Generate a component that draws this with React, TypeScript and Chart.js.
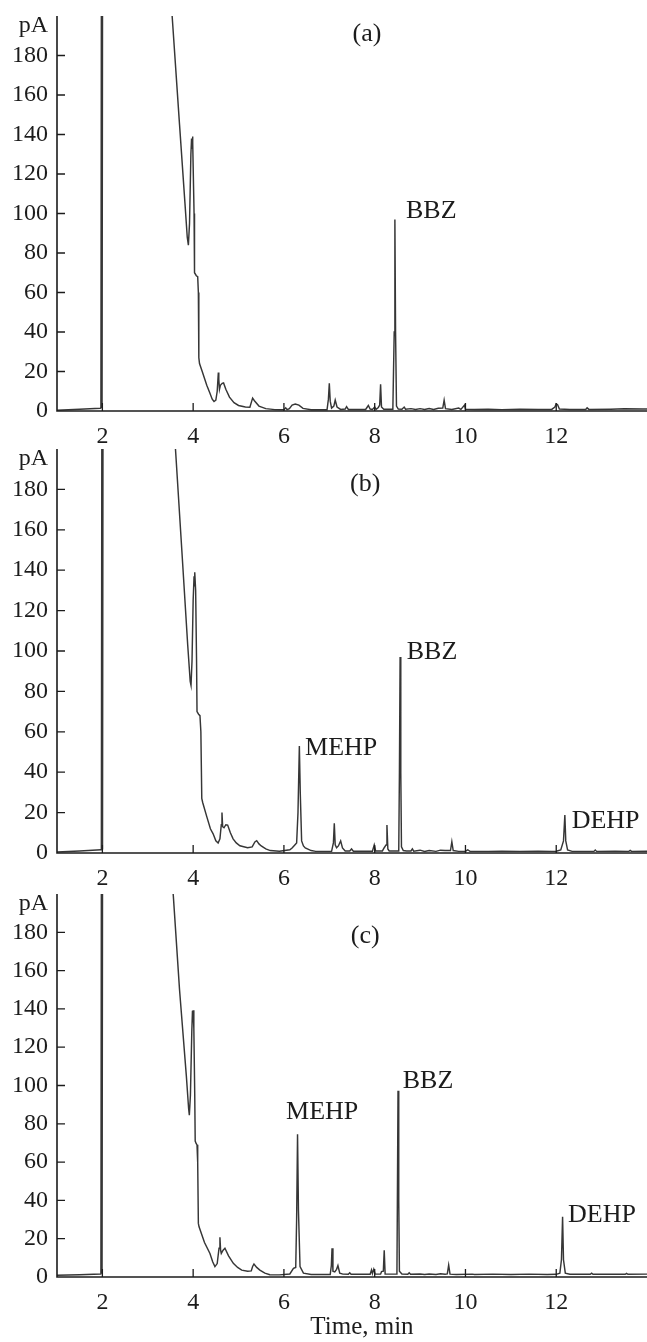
import React, { useEffect, useRef } from "react";
import { Chart, registerables } from "chart.js";

Chart.register(...registerables);

const FONT = "'Liberation Serif', 'Times New Roman', Times, serif";
const INK = "#1c1c1c";
const TRACE = "#363636";

// axes
const xTickValues = [2, 4, 6, 8, 10, 12];
const yTickValues = [0, 20, 40, 60, 80, 100, 120, 140, 160, 180];
const yUnitLabel = "pA";
const yUnitPosition = 195;
const xAxisTitle = "Time, min";
const xAxisTitleCenter = 7.72;
const xMin = 1;
const xMax = 14;
const yMin = 0;
const yMax = 200;

// panel (a)
const timeA = [1.0, 1.5, 1.95, 1.98, 2.0, 3.3, 3.45, 3.54, 3.7, 3.82, 3.87, 3.895, 3.92, 3.95, 3.965, 3.975, 3.985, 3.995, 4.02, 4.03, 4.07, 4.1, 4.115, 4.125, 4.14, 4.2, 4.3, 4.37, 4.42, 4.46, 4.5, 4.53, 4.555, 4.565, 4.58, 4.6, 4.64, 4.67, 4.72, 4.8, 4.9, 5.0, 5.15, 5.25, 5.29, 5.31, 5.35, 5.45, 5.6, 5.8, 6.0, 6.04, 6.07, 6.12, 6.18, 6.25, 6.33, 6.42, 6.6, 6.95, 6.98, 7.0, 7.02, 7.05, 7.1, 7.13, 7.17, 7.25, 7.35, 7.38, 7.42, 7.8, 7.86, 7.9, 7.95, 8.0, 8.03, 8.08, 8.11, 8.13, 8.15, 8.2, 8.4, 8.43, 8.445, 8.46, 8.48, 8.52, 8.6, 8.65, 8.68, 8.8, 8.9, 9.0, 9.1, 9.2, 9.3, 9.4, 9.5, 9.53, 9.56, 9.7, 9.85, 9.9, 9.98, 10.0, 10.2, 10.5, 10.8, 11.2, 11.6, 11.9, 11.97, 12.0, 12.03, 12.07, 12.3, 12.65, 12.68, 12.72, 13.2, 13.5, 13.9, 14.0];
const signalA = [0.4, 0.9, 1.4, 1.5, 400, 400, 230, 199, 145, 105, 88, 84, 95, 130, 138, 133, 139, 136, 100, 70, 68.5, 68, 60, 27, 24, 20, 13, 9, 6, 4.8, 5.5, 10, 19.5, 16, 11, 13, 14, 14.2, 11, 7, 4.2, 2.8, 2, 1.9, 5, 6.5, 5.2, 2.5, 1.2, 0.7, 0.6, 1.6, 0.7, 1.2, 3, 3.5, 3, 1.3, 0.6, 0.6, 6, 14, 5, 1.5, 2.5, 5.5, 2, 0.8, 1.0, 2.2, 0.8, 0.8, 2.8, 1, 0.8, 2, 0.8, 1.8, 3, 13.5, 2, 0.9, 0.9, 40, 97, 40, 2.5, 1, 0.9, 2, 0.9, 1.2, 0.8, 1.2, 0.8, 1.3, 0.8, 1.4, 1.5, 5.5, 1.2, 0.8, 1.5, 0.8, 3, 0.9, 0.8, 0.9, 0.7, 0.9, 0.8, 0.8, 2, 3.6, 3.2, 1, 0.8, 0.8, 1.6, 0.8, 0.9, 1.1, 1.0, 1.0];
const labelsA = ["(a)", "BBZ"];
const labelTimesA = [7.83, 8.69];
const labelSignalsA = [191, 101];

// panel (b)
const timeB = [1.0, 1.5, 1.97, 1.99, 2.01, 3.3, 3.5, 3.616, 3.75, 3.88, 3.935, 3.953, 3.975, 4.0, 4.02, 4.03, 4.04, 4.055, 4.075, 4.085, 4.12, 4.15, 4.17, 4.19, 4.21, 4.3, 4.38, 4.44, 4.5, 4.55, 4.59, 4.62, 4.635, 4.65, 4.68, 4.72, 4.76, 4.82, 4.88, 4.95, 5.03, 5.2, 5.3, 5.36, 5.4, 5.45, 5.5, 5.6, 5.7, 5.9, 6.13, 6.18, 6.24, 6.28, 6.31, 6.34, 6.36, 6.39, 6.43, 6.47, 6.6, 6.7, 7.05, 7.09, 7.11, 7.13, 7.16, 7.2, 7.25, 7.29, 7.35, 7.45, 7.49, 7.53, 7.95, 7.99, 8.02, 8.17, 8.21, 8.25, 8.27, 8.29, 8.32, 8.53, 8.545, 8.56, 8.575, 8.59, 8.63, 8.7, 8.8, 8.83, 8.86, 9.0, 9.1, 9.2, 9.35, 9.45, 9.55, 9.67, 9.7, 9.73, 9.85, 10.0, 10.05, 10.1, 10.5, 10.8, 11.2, 11.6, 11.9, 12.0, 12.1, 12.16, 12.19, 12.21, 12.25, 12.35, 12.83, 12.86, 12.89, 13.3, 13.6, 13.63, 13.66, 14.0];
const signalB = [0.5, 1.0, 1.6, 1.7, 400, 400, 240, 198, 150, 103, 85, 83, 95, 125, 137, 132, 139, 130, 95, 70, 68.7, 68, 60, 27, 25, 18, 12, 9.5, 6, 4.9, 7, 14, 20, 13, 12.5, 14, 13.8, 10, 7, 5, 3.6, 2.6, 3, 5.5, 6.1, 4.5, 3.5, 2, 1.2, 0.9, 1.6, 2.5, 4, 5, 20, 53, 30, 6, 3.5, 2.5, 1.2, 0.8, 0.8, 5, 14.7, 4, 2.6, 3.5, 6, 2.5, 1, 1, 2, 0.9, 0.9, 4, 1, 1, 2.6, 4, 13.8, 2, 1, 1, 40, 97, 40, 3, 1.2, 1, 1, 2, 0.9, 1.4, 0.8, 1.2, 0.8, 1.4, 1.2, 1.2, 5.6, 1.2, 0.8, 0.9, 1.6, 0.8, 0.8, 0.9, 0.8, 0.9, 0.8, 0.9, 1.5, 6, 18.8, 6, 1.5, 0.8, 0.8, 1.5, 0.8, 0.9, 0.8, 1.3, 0.8, 0.9];
const labelsB = ["(b)", "MEHP", "BBZ", "DEHP"];
const labelTimesB = [7.79, 6.465, 8.706, 12.34];
const labelSignalsB = [182.5, 51.9, 99.6, 16.0];

// panel (c)
const timeC = [1.0, 1.5, 1.96, 1.98, 2.0, 3.3, 3.45, 3.563, 3.7, 3.85, 3.9, 3.916, 3.94, 3.97, 3.985, 3.995, 4.0, 4.015, 4.035, 4.045, 4.065, 4.085, 4.1, 4.115, 4.13, 4.25, 4.37, 4.43, 4.48, 4.53, 4.57, 4.59, 4.605, 4.62, 4.66, 4.7, 4.78, 4.885, 4.98, 5.07, 5.2, 5.28, 5.31, 5.34, 5.4, 5.47, 5.58, 5.69, 5.9, 6.13, 6.21, 6.26, 6.28, 6.3, 6.32, 6.355, 6.43, 6.6, 7.02, 7.045, 7.06, 7.08, 7.12, 7.16, 7.19, 7.23, 7.3, 7.42, 7.45, 7.48, 7.9, 7.93, 7.95, 7.98, 8.01, 8.13, 8.15, 8.19, 8.21, 8.23, 8.49, 8.5, 8.514, 8.53, 8.545, 8.6, 8.73, 8.76, 8.79, 9.0, 9.1, 9.2, 9.35, 9.45, 9.55, 9.6, 9.63, 9.66, 9.8, 10.15, 10.2, 10.6, 11.0, 11.4, 11.8, 12.0, 12.08, 12.115, 12.14, 12.16, 12.2, 12.3, 12.75, 12.78, 12.81, 13.2, 13.52, 13.55, 13.58, 14.0];
const signalC = [0.9, 1.2, 1.6, 1.7, 400, 400, 235, 199, 150, 105, 88, 84.5, 95, 128, 139, 133, 139.3, 130, 95, 71, 69.7, 69, 60, 28, 26.2, 18, 12.3, 8, 5.4, 7, 15, 20.7, 14, 12.3, 14, 15, 11, 7.1, 5, 3.6, 3, 3.2, 5.5, 6.8, 5, 3.6, 2, 1.2, 1.1, 1.6, 4.5, 5, 30, 74.6, 35, 5.4, 2, 1.3, 1.3, 6, 15, 3, 2.7, 4, 6, 2, 1.5, 1.4, 2.2, 1.4, 1.4, 3.7, 1.8, 4, 1.5, 1.5, 2.8, 3, 14, 1.5, 1.5, 40, 97.2, 40, 3, 1.6, 1.4, 2.2, 1.4, 1.6, 1.3, 1.6, 1.3, 1.7, 1.4, 1.6, 6.2, 1.5, 1.3, 1.5, 1.3, 1.5, 1.3, 1.5, 1.3, 1.4, 2, 9, 31.5, 9, 2, 1.4, 1.4, 2, 1.4, 1.5, 1.4, 1.9, 1.4, 1.5];
const labelsC = ["(c)", "MEHP", "BBZ", "DEHP"];
const labelTimesC = [7.79, 6.046, 8.618, 12.26];
const labelSignalsC = [177.9, 86.2, 102.2, 32.3];

type PanelProps = {
  times: number[];
  signals: number[];
  labels: string[];
  labelTimes: number[];
  labelSignals: number[];
  top: number;
  height: number;
  padTop: number;
  axisHeight: number;
  showTitle: boolean;
};

function Panel(props: PanelProps) {
  const ref = useRef<HTMLCanvasElement>(null);
  const { times, signals, labels, labelTimes, labelSignals, top, height, padTop, axisHeight, showTitle } = props;

  useEffect(() => {
    const canvas = ref.current;
    if (!canvas) return;
    const data = times.map((t, i) => ({ x: t, y: signals[i] }));

    const overlay = {
      id: "overlay",
      afterDatasetsDraw(chart: any) {
        const { ctx, chartArea: a, scales } = chart;
        const xs = scales.x;
        const ys = scales.y;
        ctx.save();
        ctx.strokeStyle = INK;
        ctx.lineWidth = 1.6;
        ctx.beginPath();
        ctx.moveTo(a.left, a.top);
        ctx.lineTo(a.left, a.bottom);
        ctx.lineTo(a.right, a.bottom);
        ctx.stroke();
        ctx.lineWidth = 1.3;
        ctx.beginPath();
        for (const v of xTickValues) {
          const px = xs.getPixelForValue(v);
          ctx.moveTo(px, a.bottom);
          ctx.lineTo(px, a.bottom - 8);
        }
        for (const v of yTickValues) {
          if (v === 0) continue;
          const py = ys.getPixelForValue(v);
          ctx.moveTo(a.left, py);
          ctx.lineTo(a.left + 8, py);
        }
        ctx.stroke();
        ctx.fillStyle = INK;
        ctx.font = `26px ${FONT}`;
        ctx.textBaseline = "middle";
        labels.forEach((txt, i) => {
          ctx.textAlign = txt.startsWith("(") ? "center" : "left";
          ctx.fillText(txt, xs.getPixelForValue(labelTimes[i]), ys.getPixelForValue(labelSignals[i]));
        });
        if (showTitle) {
          ctx.font = `25px ${FONT}`;
          ctx.textAlign = "center";
          ctx.fillText(xAxisTitle, xs.getPixelForValue(xAxisTitleCenter), a.bottom + 50);
        }
        ctx.restore();
      },
    };

    const chart = new Chart(canvas, {
      type: "line",
      data: {
        datasets: [
          {
            data,
            borderColor: TRACE,
            borderWidth: 1.45,
            pointRadius: 0,
            tension: 0,
            fill: false,
            segment: {
              borderWidth: (c: any) =>
                c.p0.parsed.x > 1.9 && c.p0.parsed.x < 2.05 && c.p1.parsed.y > yMax ? 2.6 : 1.45,
            },
          } as any,
        ],
      },
      options: {
        responsive: false,
        animation: false,
        layout: { padding: { top: padTop, left: 0, right: 0, bottom: 0 } },
        plugins: { legend: { display: false }, tooltip: { enabled: false } },
        scales: {
          x: {
            type: "linear",
            min: xMin,
            max: xMax,
            grid: { display: false, drawTicks: false },
            border: { display: false },
            afterBuildTicks: (s: any) => {
              s.ticks = xTickValues.map((v) => ({ value: v }));
            },
            afterFit: (s: any) => {
              s.height = axisHeight;
              s.paddingLeft = 0;
              s.paddingRight = 0;
            },
            ticks: {
              padding: 11,
              color: INK,
              font: { family: FONT, size: 24 },
              maxRotation: 0,
              autoSkip: false,
            },
          },
          y: {
            type: "linear",
            min: yMin,
            max: yMax,
            grid: { display: false, drawTicks: false },
            border: { display: false },
            afterBuildTicks: (s: any) => {
              s.ticks = [...yTickValues, yUnitPosition].map((v) => ({ value: v }));
            },
            afterFit: (s: any) => {
              s.width = 57;
              s.paddingTop = 0;
              s.paddingBottom = 0;
            },
            ticks: {
              padding: 9,
              color: INK,
              font: { family: FONT, size: 24 },
              autoSkip: false,
              callback: (v: any) => (v === yUnitPosition ? yUnitLabel : String(v)),
            },
          },
        },
      } as any,
      plugins: [overlay],
    });
    return () => chart.destroy();
  }, []);

  return (
    <canvas
      ref={ref}
      width={647}
      height={height}
      style={{ position: "absolute", left: 0, top, width: 647, height, display: "block" }}
    />
  );
}

export default function App() {
  return (
    <div style={{ position: "absolute", left: 0, top: 0, width: 647, height: 1342, background: "#fff" }}>
      <Panel times={timeA} signals={signalA} labels={labelsA} labelTimes={labelTimesA} labelSignals={labelSignalsA}
        top={0} height={455} padTop={16} axisHeight={44} showTitle={false} />
      <Panel times={timeB} signals={signalB} labels={labelsB} labelTimes={labelTimesB} labelSignals={labelSignalsB}
        top={440} height={457} padTop={9} axisHeight={44} showTitle={false} />
      <Panel times={timeC} signals={signalC} labels={labelsC} labelTimes={labelTimesC} labelSignals={labelSignalsC}
        top={880} height={462} padTop={14} axisHeight={65} showTitle={true} />
    </div>
  );
}
